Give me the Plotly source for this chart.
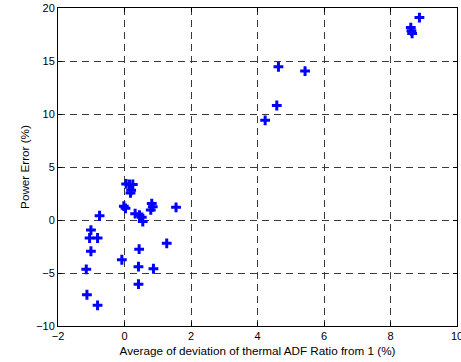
import plotly.graph_objects as go

x_dev = [0.05, 0.15, 0.25, 0.2, 0.18, -0.02, 0.03, 0.82, 0.79, 0.85, 1.55, -0.75,
         0.32, 0.45, 0.52, 0.55, -1.01, -1.05, -0.81, -1.01, 1.27, 0.44, -0.08,
         0.42, -1.15, 0.87, 0.42, -1.13, -0.81, 4.63, 5.43, 4.58, 4.23, 8.87,
         8.61, 8.63, 8.65]
y_err = [3.4, 3.35, 3.35, 2.8, 2.55, 1.3, 1.1, 1.55, 0.95, 1.25, 1.2, 0.4,
         0.6, 0.45, 0.25, -0.15, -0.95, -1.7, -1.7, -2.95, -2.2, -2.75, -3.75,
         -4.4, -4.65, -4.6, -6.05, -7.05, -8.05, 14.45, 14.05, 10.8, 9.4, 19.1,
         18.15, 17.85, 17.6]

x_ticks = [-2, 0, 2, 4, 6, 8, 10]
y_ticks = [-10, -5, 0, 5, 10, 15, 20]

fig = go.Figure()
fig.add_trace(go.Scatter(
    x=x_dev, y=y_err, mode="markers",
    marker=dict(symbol="cross-thin", size=7, color="#0000ff",
                line=dict(color="#0000ff", width=3)),
    showlegend=False, cliponaxis=False,
))

font = dict(family="Liberation Sans, Arial, sans-serif", size=11, color="black")
tfont = dict(family="Liberation Sans, Arial, sans-serif", size=11.7, color="black")

axis_common = dict(
    showline=True, linecolor="black", linewidth=1, mirror="ticks",
    ticks="inside", ticklen=4, tickcolor="black",
    showgrid=True, gridcolor="#3a3a3a", griddash="7px,5px", gridwidth=1,
    zeroline=False, automargin=False, ticklabeloverflow="allow",
    tickfont=font,
)

fig.update_xaxes(range=[-2, 10], tickvals=x_ticks,
                 title=dict(text="Average of deviation of thermal ADF Ratio from 1 (%)",
                            font=tfont, standoff=5),
                 **axis_common)
fig.update_yaxes(range=[-10, 20], tickvals=y_ticks,
                 title=dict(text="Power Error (%)", font=tfont, standoff=4),
                 **axis_common)

fig.update_layout(
    width=461, height=362,
    margin=dict(l=58, r=4, t=8, b=36),
    plot_bgcolor="white", paper_bgcolor="white",
)

fig.write_html("out.html", config={"displayModeBar": False},
               post_script="document.body.style.margin='0';")
